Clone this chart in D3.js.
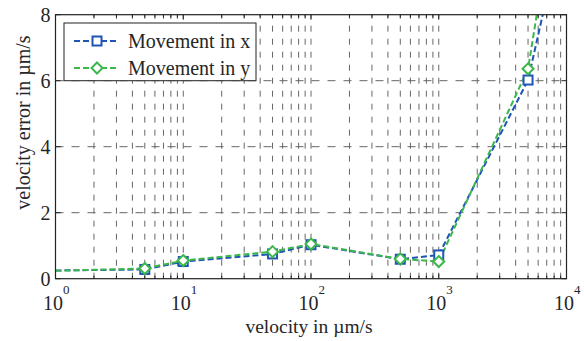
<!DOCTYPE html>
<html><head><meta charset="utf-8">
<script src="https://cdn.jsdelivr.net/npm/d3@7"></script>
<style>body{margin:0;background:#fff}svg{display:block}text{font-family:"Liberation Serif","Times New Roman",serif;fill:#262626}</style>
</head><body>
<svg id="c" width="584" height="341"></svg>
<script>
const velocities = [1, 5, 10, 50, 100, 500, 1000, 5000, 10000];
const errorX = [0.25, 0.28, 0.52, 0.75, 1.03, 0.59, 0.72, 6.02, 11.2];
const errorY = [0.24, 0.31, 0.55, 0.82, 1.05, 0.60, 0.52, 6.36, 13.6];
const seriesNames = ["Movement in x", "Movement in y"];
const yTicks = [0, 2, 4, 6, 8];
const xDecades = [1, 10, 100, 1000, 10000];
const xExponents = ["0", "1", "2", "3", "4"];

const svg = d3.select("#c");
const L = 55.5, R = 566.5, T = 14.7, B = 278.7;
const x = d3.scaleLog().domain([1, 10000]).range([L, R]);
const y = d3.scaleLinear().domain([0, 8]).range([B, T]);

const minor = [];
for (let d = 1; d < 10000; d *= 10) for (let k = 2; k <= 9; k++) minor.push(d * k);

const g = svg.append("g");
g.selectAll(".vm").data(minor.concat(xDecades.slice(1, -1))).join("line")
  .attr("x1", d => x(d)).attr("x2", d => x(d)).attr("y1", B).attr("y2", T)
  .attr("stroke", "#666").attr("stroke-width", 1).attr("stroke-dasharray", "6,7");
g.selectAll(".hM").data(yTicks.slice(1, -1)).join("line")
  .attr("x1", L).attr("x2", R).attr("y1", d => y(d)).attr("y2", d => y(d))
  .attr("stroke", "#666").attr("stroke-width", 1).attr("stroke-dasharray", "8,8");

svg.append("clipPath").attr("id", "clip").append("rect").attr("x", L).attr("y", T).attr("width", R - L).attr("height", B - T);

const colors = ["#1f55b4", "#3cb84a"];
const datasets = [errorX, errorY];
const line = d3.line().x((d, i) => x(velocities[i])).y(d => y(d));
datasets.forEach((vals, si) => {
  svg.append("path").datum(vals).attr("clip-path", "url(#clip)")
    .attr("d", line).attr("fill", "none").attr("stroke", colors[si])
    .attr("stroke-width", 2).attr("stroke-dasharray", "6,3");
});
const pts = (vals) => vals.map((v, i) => ({v, x: velocities[i]})).filter(p => p.x > 1 && p.v <= 8);
svg.selectAll(".sq").data(pts(errorX)).join("rect")
  .attr("x", d => x(d.x) - 4.5).attr("y", d => y(d.v) - 4.5).attr("width", 9).attr("height", 9)
  .attr("fill", "#fff").attr("stroke", colors[0]).attr("stroke-width", 2);
const diamond = "M0,-5.5L5.5,0L0,5.5L-5.5,0Z";
svg.selectAll(".dm").data(pts(errorY)).join("path")
  .attr("transform", d => `translate(${x(d.x)},${y(d.v)})`).attr("d", diamond)
  .attr("fill", "#fff").attr("stroke", colors[1]).attr("stroke-width", 2);

svg.append("rect").attr("x", L).attr("y", T).attr("width", R - L).attr("height", B - T)
  .attr("fill", "none").attr("stroke", "#222").attr("stroke-width", 1.2);
const tk = svg.append("g").attr("stroke", "#222").attr("stroke-width", 1);
minor.forEach(d => {
  tk.append("line").attr("x1", x(d)).attr("x2", x(d)).attr("y1", B).attr("y2", B - 3);
  tk.append("line").attr("x1", x(d)).attr("x2", x(d)).attr("y1", T).attr("y2", T + 3);
});
xDecades.forEach(d => {
  tk.append("line").attr("x1", x(d)).attr("x2", x(d)).attr("y1", B).attr("y2", B - 5);
  tk.append("line").attr("x1", x(d)).attr("x2", x(d)).attr("y1", T).attr("y2", T + 5);
});
yTicks.forEach(d => {
  tk.append("line").attr("x1", L).attr("x2", L + 5).attr("y1", y(d)).attr("y2", y(d));
  tk.append("line").attr("x1", R).attr("x2", R - 5).attr("y1", y(d)).attr("y2", y(d));
});
svg.selectAll(".yl").data(yTicks).join("text")
  .attr("x", L - 5).attr("y", d => y(d) + 7).attr("text-anchor", "end")
  .attr("font-size", 20).text(d => d);
xDecades.forEach((d, i) => {
  const t = svg.append("text").attr("x", x(d) - 12.5).attr("y", 310).attr("font-size", 20);
  t.append("tspan").text("10");
  t.append("tspan").attr("dy", -16).attr("font-size", 13).text(xExponents[i]);
});
svg.append("text").attr("x", 309).attr("y", 333).attr("text-anchor", "middle").attr("font-size", 19.5).text("velocity in µm/s");
svg.append("text").attr("transform", "translate(29.5,122.5) rotate(-90)").attr("text-anchor", "middle").attr("font-size", 20).text("velocity error in µm/s");

const lg = svg.append("g");
lg.append("rect").attr("x", 64).attr("y", 23).attr("width", 192).attr("height", 57.7)
  .attr("fill", "#fff").attr("stroke", "#222").attr("stroke-width", 1);
const rowsY = [41, 68];
seriesNames.forEach((name, i) => {
  lg.append("line").attr("x1", 74).attr("x2", 119).attr("y1", rowsY[i]).attr("y2", rowsY[i])
    .attr("stroke", colors[i]).attr("stroke-width", 2).attr("stroke-dasharray", "6,3");
  if (i === 0) lg.append("rect").attr("x", 92.5).attr("y", rowsY[i] - 4.5).attr("width", 9).attr("height", 9)
    .attr("fill", "#fff").attr("stroke", colors[0]).attr("stroke-width", 2);
  else lg.append("path").attr("transform", `translate(97,${rowsY[i]})`).attr("d", diamond)
    .attr("fill", "#fff").attr("stroke", colors[1]).attr("stroke-width", 2);
  lg.append("text").attr("x", 128).attr("y", rowsY[i] + 6.5).attr("font-size", 20).text(name);
});
</script>
</body></html>
